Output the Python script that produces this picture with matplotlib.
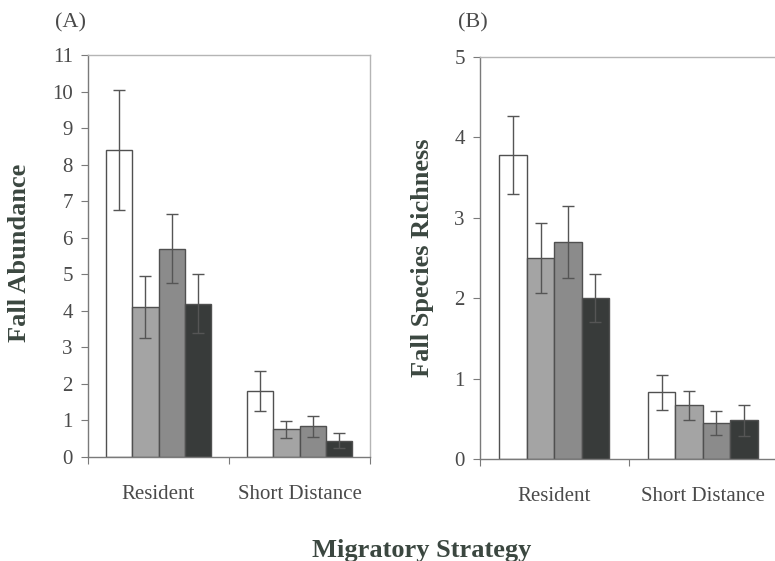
import numpy as np
import matplotlib
matplotlib.use("Agg")
import matplotlib.pyplot as plt

# data
categories = ["Resident", "Short Distance"]
fills = ["#ffffff", "#a4a4a4", "#8b8b8b", "#383b3a"]

abund_mean = [[8.4, 1.8], [4.1, 0.76], [5.7, 0.84], [4.2, 0.45]]
abund_err = [[1.65, 0.55], [0.85, 0.23], [0.95, 0.29], [0.82, 0.2]]

rich_mean = [[3.78, 0.83], [2.5, 0.67], [2.7, 0.45], [2.0, 0.48]]
rich_err = [[0.49, 0.22], [0.44, 0.18], [0.45, 0.15], [0.3, 0.19]]

plt.rcParams["font.family"] = ["Liberation Serif", "DejaVu Serif"]

fig = plt.figure(figsize=(7.75, 5.61), dpi=100)
W, H = 775.0, 561.0

txt_col = "#4a4a4a"
lab_col = "#3b4740"
spine_col = "#7a7a7a"


def panel(rect, means, errs, ymax, yticks):
    ax = fig.add_axes(rect)
    x = np.arange(len(categories))
    bw = 0.185
    for i in range(4):
        ax.bar(x + (i - 1.5) * bw, means[i], bw, color=fills[i],
               edgecolor="#505050", linewidth=1.0, zorder=2)
        ax.errorbar(x + (i - 1.5) * bw, means[i], yerr=errs[i], fmt="none",
                    ecolor="#555555", elinewidth=1.0, capsize=4, capthick=1.0,
                    zorder=3)
    ax.set_xlim(-0.5, 1.5)
    ax.set_ylim(0, ymax)
    ax.set_yticks(yticks)
    ax.set_xticks([-0.5, 0.5, 1.5])
    ax.set_xticklabels([])
    ax.set_xticks(x, minor=True)
    ax.set_xticklabels(categories, minor=True)
    ax.tick_params(axis="x", which="minor", length=0, pad=20,
                   labelsize=15, labelcolor=txt_col)
    ax.tick_params(axis="x", which="major", length=5, direction="out",
                   color=spine_col)
    ax.tick_params(axis="y", length=5, direction="out", color=spine_col,
                   labelsize=15, labelcolor=txt_col, pad=6)
    for s in ax.spines.values():
        s.set_color(spine_col)
        s.set_linewidth(1.0)
    for s in ["top", "right"]:
        ax.spines[s].set_color("#b5b5b5")
    return ax


axA = panel([88 / W, 1 - 457 / H, 282 / W, 402 / H],
            abund_mean, abund_err, 11, range(0, 12))
axB = panel([480 / W, 1 - 459 / H, 297 / W, 402 / H],
            rich_mean, rich_err, 5, range(0, 6))

fig.text(20 / W, 1 - 253 / H, "Fall Abundance", rotation=90, ha="center",
         va="center", fontsize=19, fontweight="bold", color=lab_col)
fig.text(423 / W, 1 - 258 / H, "Fall Species Richness", rotation=90,
         ha="center", va="center", fontsize=19, fontweight="bold",
         color=lab_col)
fig.text(422 / W, 1 - 557 / H, "Migratory Strategy", ha="center",
         va="baseline", fontsize=19, fontweight="bold", color=lab_col)
fig.text(71 / W, 1 - 23 / H, "(A)", ha="center", va="center",
         fontsize=16, color=txt_col)
fig.text(473 / W, 1 - 23 / H, "(B)", ha="center", va="center",
         fontsize=16, color=txt_col)

fig.savefig("out.png", dpi=100)
